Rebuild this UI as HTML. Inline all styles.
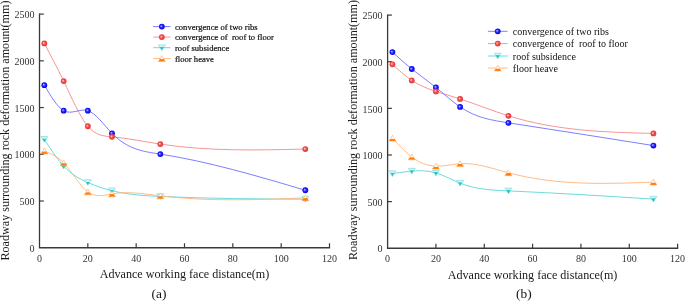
<!DOCTYPE html>
<html><head><meta charset="utf-8"><style>
html,body{margin:0;padding:0;background:#fff;width:685px;height:301px;overflow:hidden}
svg{display:block;will-change:transform}
text{font-family:"Liberation Serif",serif;fill:#222;white-space:pre}
.t{font-size:10px;fill:#333}
.ti{font-size:12.1px;fill:#1a1a1a}
.pl{font-size:13.4px;fill:#111}
.lg{fill:#111}
#pa .lg{stroke:#111;stroke-width:0.22px}
</style></head><body>
<svg width="685" height="301" viewBox="0 0 685 301">
<defs>
<radialGradient id="gb" cx="0.5" cy="0.5" r="0.5" fx="0.36" fy="0.4"><stop offset="0" stop-color="#d0d0ff"/><stop offset="0.45" stop-color="#2a2aff"/><stop offset="1" stop-color="#0000f0"/></radialGradient>
<radialGradient id="gr" cx="0.5" cy="0.5" r="0.5" fx="0.36" fy="0.4"><stop offset="0" stop-color="#ffe0e0"/><stop offset="0.45" stop-color="#f25252"/><stop offset="1" stop-color="#e83434"/></radialGradient>
<linearGradient id="go" x1="0" y1="0" x2="0" y2="1"><stop offset="0" stop-color="#fff"/><stop offset="0.55" stop-color="#fff"/><stop offset="0.62" stop-color="#ff8000"/><stop offset="1" stop-color="#ff7a00"/></linearGradient>
<linearGradient id="gc" x1="0" y1="0" x2="0" y2="1"><stop offset="0" stop-color="#c8f2f2"/><stop offset="0.33" stop-color="#d8f6f6"/><stop offset="0.42" stop-color="#20c8c8"/><stop offset="1" stop-color="#00bcbc"/></linearGradient>
</defs>
<g id="pa">
<path d="M39.50,13.50 V247.75 H330.10" fill="none" stroke="#3a3a3a" stroke-width="1.3"/>
<text x="34.40" y="251.95" class="t" text-anchor="end">0</text>
<path d="M39.50,201.02 h4.3" stroke="#3a3a3a" stroke-width="1.2"/>
<text x="34.40" y="205.22" class="t" text-anchor="end">500</text>
<path d="M39.50,154.29 h4.3" stroke="#3a3a3a" stroke-width="1.2"/>
<text x="34.40" y="158.49" class="t" text-anchor="end">1000</text>
<path d="M39.50,107.56 h4.3" stroke="#3a3a3a" stroke-width="1.2"/>
<text x="34.40" y="111.76" class="t" text-anchor="end">1500</text>
<path d="M39.50,60.83 h4.3" stroke="#3a3a3a" stroke-width="1.2"/>
<text x="34.40" y="65.03" class="t" text-anchor="end">2000</text>
<path d="M39.50,14.10 h4.3" stroke="#3a3a3a" stroke-width="1.2"/>
<text x="34.40" y="18.30" class="t" text-anchor="end">2500</text>
<text x="39.50" y="262" class="t" text-anchor="middle">0</text>
<path d="M87.83,247.75 v-4.5" stroke="#3a3a3a" stroke-width="1.2"/>
<text x="87.83" y="262" class="t" text-anchor="middle">20</text>
<path d="M136.17,247.75 v-4.5" stroke="#3a3a3a" stroke-width="1.2"/>
<text x="136.17" y="262" class="t" text-anchor="middle">40</text>
<path d="M184.50,247.75 v-4.5" stroke="#3a3a3a" stroke-width="1.2"/>
<text x="184.50" y="262" class="t" text-anchor="middle">60</text>
<path d="M232.83,247.75 v-4.5" stroke="#3a3a3a" stroke-width="1.2"/>
<text x="232.83" y="262" class="t" text-anchor="middle">80</text>
<path d="M281.17,247.75 v-4.5" stroke="#3a3a3a" stroke-width="1.2"/>
<text x="281.17" y="262" class="t" text-anchor="middle">100</text>
<path d="M329.50,247.75 v-4.5" stroke="#3a3a3a" stroke-width="1.2"/>
<text x="329.50" y="262" class="t" text-anchor="middle">120</text>
<text x="184.50" y="278.15" class="ti" text-anchor="middle">Advance working face distance(m)</text>
<text transform="translate(9.2,260.5) rotate(-90)" class="ti">Roadway surrounding rock deformation amount(mm)</text>
<text x="158.95" y="297.75" class="pl" text-anchor="middle">(a)</text>
<path d="M44.33,43.45 C50.78,55.57 57.22,67.69 63.67,81.11 C71.72,97.89 79.78,116.71 87.83,126.25 C95.89,135.80 103.94,136.07 112.00,136.81 C128.11,138.30 144.22,141.67 160.33,144.10 C208.67,151.40 257.00,150.23 305.33,149.06" fill="none" stroke="#f58a8a" stroke-width="0.9"/>
<path d="M44.33,85.13 C50.78,96.09 57.22,107.04 63.67,110.64 C71.72,115.15 79.78,108.16 87.83,110.64 C95.89,113.13 103.94,125.09 112.00,133.35 C128.11,149.88 144.22,151.61 160.33,154.10 C208.67,161.58 257.00,175.93 305.33,190.27" fill="none" stroke="#6f6fff" stroke-width="0.9"/>
<path d="M44.33,139.34 C50.78,149.25 57.22,159.17 63.67,166.16 C71.72,174.89 79.78,179.05 87.83,182.51 C95.89,185.98 103.94,188.74 112.00,190.74 C128.11,194.74 144.22,195.70 160.33,196.44 C208.67,198.67 257.00,198.96 305.33,199.24" fill="none" stroke="#5ad8d8" stroke-width="0.9"/>
<path d="M44.33,151.02 C50.78,153.61 57.22,156.21 63.67,162.89 C71.72,171.24 79.78,185.97 87.83,191.95 C95.89,197.94 103.94,195.19 112.00,193.82 C128.11,191.09 144.22,193.92 160.33,195.88 C208.67,201.75 257.00,199.80 305.33,197.84" fill="none" stroke="#ffb47c" stroke-width="0.9"/>
<circle cx="44.33" cy="85.13" r="2.90" fill="url(#gb)"/>
<circle cx="63.67" cy="110.64" r="2.90" fill="url(#gb)"/>
<circle cx="87.83" cy="110.64" r="2.90" fill="url(#gb)"/>
<circle cx="112.00" cy="133.35" r="2.90" fill="url(#gb)"/>
<circle cx="160.33" cy="154.10" r="2.90" fill="url(#gb)"/>
<circle cx="305.33" cy="190.27" r="2.90" fill="url(#gb)"/>
<circle cx="44.33" cy="43.45" r="2.90" fill="url(#gr)"/>
<circle cx="63.67" cy="81.11" r="2.90" fill="url(#gr)"/>
<circle cx="87.83" cy="126.25" r="2.90" fill="url(#gr)"/>
<circle cx="112.00" cy="136.81" r="2.90" fill="url(#gr)"/>
<circle cx="160.33" cy="144.10" r="2.90" fill="url(#gr)"/>
<circle cx="305.33" cy="149.06" r="2.90" fill="url(#gr)"/>
<path d="M40.83,136.54 L47.83,136.54 L44.33,142.14Z" fill="url(#gc)" stroke="#7ad8d8" stroke-width="0.6"/>
<path d="M60.17,163.36 L67.17,163.36 L63.67,168.96Z" fill="url(#gc)" stroke="#7ad8d8" stroke-width="0.6"/>
<path d="M84.33,179.71 L91.33,179.71 L87.83,185.31Z" fill="url(#gc)" stroke="#7ad8d8" stroke-width="0.6"/>
<path d="M108.50,187.94 L115.50,187.94 L112.00,193.54Z" fill="url(#gc)" stroke="#7ad8d8" stroke-width="0.6"/>
<path d="M156.83,193.64 L163.83,193.64 L160.33,199.24Z" fill="url(#gc)" stroke="#7ad8d8" stroke-width="0.6"/>
<path d="M301.83,196.44 L308.83,196.44 L305.33,202.04Z" fill="url(#gc)" stroke="#7ad8d8" stroke-width="0.6"/>
<path d="M44.33,148.12 L47.73,153.92 L40.93,153.92Z" fill="url(#go)" stroke="#ffa45c" stroke-width="0.6"/>
<path d="M63.67,159.99 L67.07,165.79 L60.27,165.79Z" fill="url(#go)" stroke="#ffa45c" stroke-width="0.6"/>
<path d="M87.83,189.05 L91.23,194.85 L84.43,194.85Z" fill="url(#go)" stroke="#ffa45c" stroke-width="0.6"/>
<path d="M112.00,190.92 L115.40,196.72 L108.60,196.72Z" fill="url(#go)" stroke="#ffa45c" stroke-width="0.6"/>
<path d="M160.33,192.98 L163.73,198.78 L156.93,198.78Z" fill="url(#go)" stroke="#ffa45c" stroke-width="0.6"/>
<path d="M305.33,194.94 L308.73,200.74 L301.93,200.74Z" fill="url(#go)" stroke="#ffa45c" stroke-width="0.6"/>
<path d="M153.20,26.60 H170.50" stroke="#6f6fff" stroke-width="0.9"/>
<circle cx="161.85" cy="26.60" r="2.90" fill="url(#gb)"/>
<text x="175.00" y="29.60" style="font-size:9.0px" class="lg" textLength="82.7" lengthAdjust="spacingAndGlyphs">convergence of two ribs</text>
<path d="M153.20,37.10 H170.50" stroke="#f58a8a" stroke-width="0.9"/>
<circle cx="161.85" cy="37.10" r="2.90" fill="url(#gr)"/>
<text x="175.00" y="40.10" style="font-size:9.0px" class="lg" textLength="98.95" lengthAdjust="spacingAndGlyphs">convergence of  roof to floor</text>
<path d="M153.20,47.70 H170.50" stroke="#5ad8d8" stroke-width="0.9"/>
<path d="M158.35,44.90 L165.35,44.90 L161.85,50.50Z" fill="url(#gc)" stroke="#7ad8d8" stroke-width="0.6"/>
<text x="175.00" y="50.70" style="font-size:9.0px" class="lg" textLength="54.2" lengthAdjust="spacingAndGlyphs">roof subsidence</text>
<path d="M153.20,58.50 H170.50" stroke="#ffb47c" stroke-width="0.9"/>
<path d="M161.85,55.60 L165.25,61.40 L158.45,61.40Z" fill="url(#go)" stroke="#ffa45c" stroke-width="0.6"/>
<text x="175.00" y="61.50" style="font-size:9.0px" class="lg" textLength="38.9" lengthAdjust="spacingAndGlyphs">floor heave</text>
</g>
<g id="pb">
<path d="M387.60,14.50 V248.25 H678.20" fill="none" stroke="#3a3a3a" stroke-width="1.3"/>
<text x="382.50" y="252.45" class="t" text-anchor="end">0</text>
<path d="M387.60,201.62 h4.3" stroke="#3a3a3a" stroke-width="1.2"/>
<text x="382.50" y="205.82" class="t" text-anchor="end">500</text>
<path d="M387.60,154.99 h4.3" stroke="#3a3a3a" stroke-width="1.2"/>
<text x="382.50" y="159.19" class="t" text-anchor="end">1000</text>
<path d="M387.60,108.36 h4.3" stroke="#3a3a3a" stroke-width="1.2"/>
<text x="382.50" y="112.56" class="t" text-anchor="end">1500</text>
<path d="M387.60,61.73 h4.3" stroke="#3a3a3a" stroke-width="1.2"/>
<text x="382.50" y="65.93" class="t" text-anchor="end">2000</text>
<path d="M387.60,15.10 h4.3" stroke="#3a3a3a" stroke-width="1.2"/>
<text x="382.50" y="19.30" class="t" text-anchor="end">2500</text>
<text x="387.60" y="262" class="t" text-anchor="middle">0</text>
<path d="M435.93,248.25 v-4.5" stroke="#3a3a3a" stroke-width="1.2"/>
<text x="435.93" y="262" class="t" text-anchor="middle">20</text>
<path d="M484.27,248.25 v-4.5" stroke="#3a3a3a" stroke-width="1.2"/>
<text x="484.27" y="262" class="t" text-anchor="middle">40</text>
<path d="M532.60,248.25 v-4.5" stroke="#3a3a3a" stroke-width="1.2"/>
<text x="532.60" y="262" class="t" text-anchor="middle">60</text>
<path d="M580.93,248.25 v-4.5" stroke="#3a3a3a" stroke-width="1.2"/>
<text x="580.93" y="262" class="t" text-anchor="middle">80</text>
<path d="M629.27,248.25 v-4.5" stroke="#3a3a3a" stroke-width="1.2"/>
<text x="629.27" y="262" class="t" text-anchor="middle">100</text>
<path d="M677.60,248.25 v-4.5" stroke="#3a3a3a" stroke-width="1.2"/>
<text x="677.60" y="262" class="t" text-anchor="middle">120</text>
<text x="532.60" y="278.65" class="ti" text-anchor="middle">Advance working face distance(m)</text>
<text transform="translate(356.9,260.0) rotate(-90)" class="ti">Roadway surrounding rock deformation amount(mm)</text>
<text x="523.85" y="298.25" class="pl" text-anchor="middle">(b)</text>
<path d="M392.43,64.34 C398.88,70.20 405.32,76.07 411.77,80.38 C419.82,85.78 427.88,88.75 435.93,91.39 C443.99,94.02 452.04,96.31 460.10,98.94 C476.21,104.19 492.32,110.78 508.43,115.82 C556.77,130.95 605.10,132.20 653.43,133.45" fill="none" stroke="#f58a8a" stroke-width="0.9"/>
<path d="M392.43,52.12 C398.88,57.98 405.32,63.83 411.77,69.00 C419.82,75.47 427.88,80.87 435.93,87.38 C443.99,93.88 452.04,101.49 460.10,106.96 C476.21,117.91 492.32,120.35 508.43,122.82 C556.77,130.22 605.10,137.89 653.43,145.57" fill="none" stroke="#6f6fff" stroke-width="0.9"/>
<path d="M392.43,173.64 C398.88,172.65 405.32,171.65 411.77,171.12 C419.82,170.46 427.88,170.53 435.93,172.90 C443.99,175.26 452.04,179.94 460.10,183.15 C476.21,189.59 492.32,190.19 508.43,190.90 C556.77,193.01 605.10,196.06 653.43,199.10" fill="none" stroke="#5ad8d8" stroke-width="0.9"/>
<path d="M392.43,138.20 C398.88,145.14 405.32,152.08 411.77,156.95 C419.82,163.04 427.88,165.89 435.93,166.18 C443.99,166.47 452.04,164.19 460.10,163.66 C476.21,162.60 492.32,168.51 508.43,172.80 C556.77,185.67 605.10,183.90 653.43,182.13" fill="none" stroke="#ffb47c" stroke-width="0.9"/>
<circle cx="392.43" cy="52.12" r="2.90" fill="url(#gb)"/>
<circle cx="411.77" cy="69.00" r="2.90" fill="url(#gb)"/>
<circle cx="435.93" cy="87.38" r="2.90" fill="url(#gb)"/>
<circle cx="460.10" cy="106.96" r="2.90" fill="url(#gb)"/>
<circle cx="508.43" cy="122.82" r="2.90" fill="url(#gb)"/>
<circle cx="653.43" cy="145.57" r="2.90" fill="url(#gb)"/>
<circle cx="392.43" cy="64.34" r="2.90" fill="url(#gr)"/>
<circle cx="411.77" cy="80.38" r="2.90" fill="url(#gr)"/>
<circle cx="435.93" cy="91.39" r="2.90" fill="url(#gr)"/>
<circle cx="460.10" cy="98.94" r="2.90" fill="url(#gr)"/>
<circle cx="508.43" cy="115.82" r="2.90" fill="url(#gr)"/>
<circle cx="653.43" cy="133.45" r="2.90" fill="url(#gr)"/>
<path d="M388.93,170.84 L395.93,170.84 L392.43,176.44Z" fill="url(#gc)" stroke="#7ad8d8" stroke-width="0.6"/>
<path d="M408.27,168.32 L415.27,168.32 L411.77,173.92Z" fill="url(#gc)" stroke="#7ad8d8" stroke-width="0.6"/>
<path d="M432.43,170.10 L439.43,170.10 L435.93,175.70Z" fill="url(#gc)" stroke="#7ad8d8" stroke-width="0.6"/>
<path d="M456.60,180.35 L463.60,180.35 L460.10,185.95Z" fill="url(#gc)" stroke="#7ad8d8" stroke-width="0.6"/>
<path d="M504.93,188.10 L511.93,188.10 L508.43,193.70Z" fill="url(#gc)" stroke="#7ad8d8" stroke-width="0.6"/>
<path d="M649.93,196.30 L656.93,196.30 L653.43,201.90Z" fill="url(#gc)" stroke="#7ad8d8" stroke-width="0.6"/>
<path d="M392.43,135.30 L395.83,141.10 L389.03,141.10Z" fill="url(#go)" stroke="#ffa45c" stroke-width="0.6"/>
<path d="M411.77,154.05 L415.17,159.85 L408.37,159.85Z" fill="url(#go)" stroke="#ffa45c" stroke-width="0.6"/>
<path d="M435.93,163.28 L439.33,169.08 L432.53,169.08Z" fill="url(#go)" stroke="#ffa45c" stroke-width="0.6"/>
<path d="M460.10,160.76 L463.50,166.56 L456.70,166.56Z" fill="url(#go)" stroke="#ffa45c" stroke-width="0.6"/>
<path d="M508.43,169.90 L511.83,175.70 L505.03,175.70Z" fill="url(#go)" stroke="#ffa45c" stroke-width="0.6"/>
<path d="M653.43,179.23 L656.83,185.03 L650.03,185.03Z" fill="url(#go)" stroke="#ffa45c" stroke-width="0.6"/>
<path d="M487.90,31.30 H507.60" stroke="#6f6fff" stroke-width="0.9"/>
<circle cx="497.75" cy="31.30" r="2.90" fill="url(#gb)"/>
<text x="512.80" y="35.00" style="font-size:10px" class="lg">convergence of two ribs</text>
<path d="M487.90,43.60 H507.60" stroke="#f58a8a" stroke-width="0.9"/>
<circle cx="497.75" cy="43.60" r="2.90" fill="url(#gr)"/>
<text x="512.80" y="47.30" style="font-size:10px" class="lg">convergence of  roof to floor</text>
<path d="M487.90,56.00 H507.60" stroke="#5ad8d8" stroke-width="0.9"/>
<path d="M494.25,53.20 L501.25,53.20 L497.75,58.80Z" fill="url(#gc)" stroke="#7ad8d8" stroke-width="0.6"/>
<text x="512.80" y="59.70" style="font-size:10px" class="lg">roof subsidence</text>
<path d="M487.90,68.10 H507.60" stroke="#ffb47c" stroke-width="0.9"/>
<path d="M497.75,65.20 L501.15,71.00 L494.35,71.00Z" fill="url(#go)" stroke="#ffa45c" stroke-width="0.6"/>
<text x="512.80" y="71.80" style="font-size:10px" class="lg">floor heave</text>
</g>
</svg>
</body></html>
